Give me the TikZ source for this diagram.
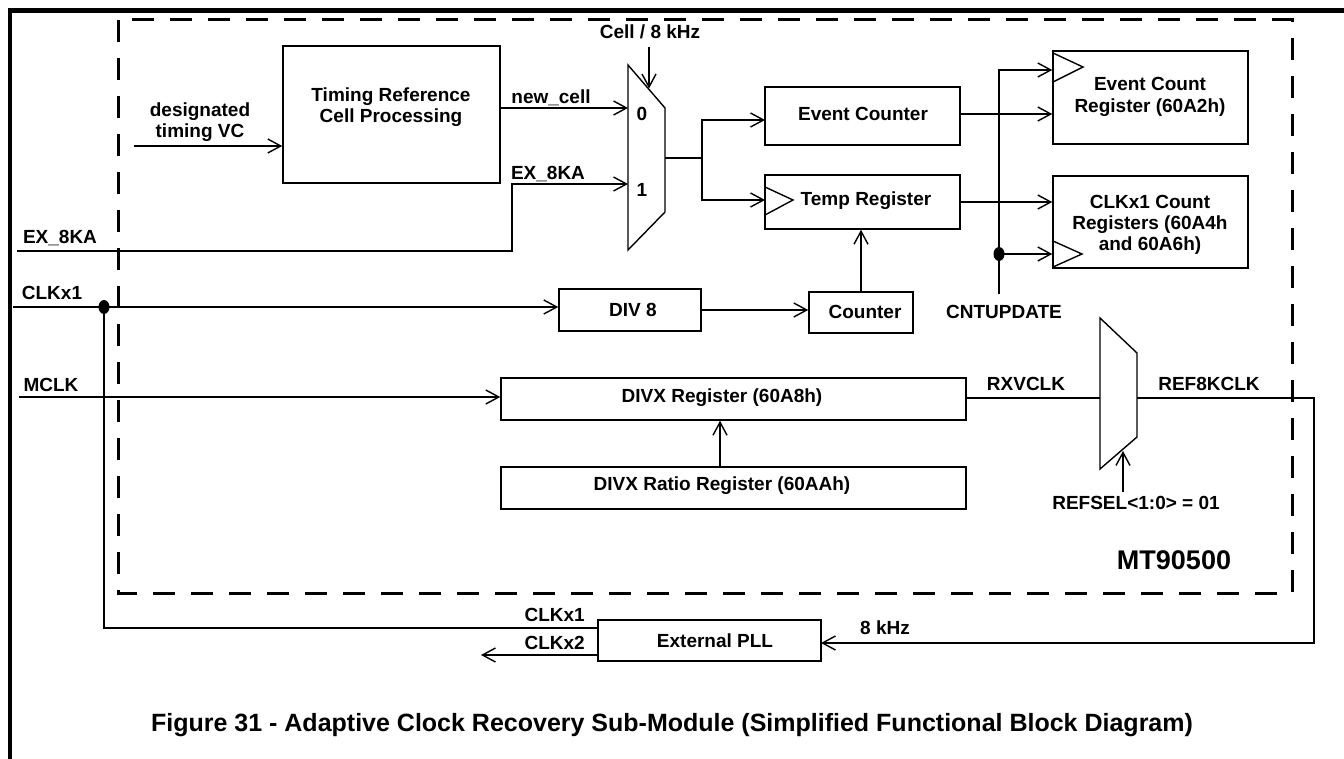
\documentclass[tikz,border=0pt]{standalone}
\usepackage{fontspec}
\setmainfont{Liberation Sans}
\usetikzlibrary{arrows.meta}
\begin{document}
\begin{tikzpicture}[x=1pt,y=-1pt,
  lbl/.style={font=\fontsize{19}{20.5}\selectfont\bfseries, inner sep=0pt, align=center},
  box/.style={draw, line width=1.5pt, inner sep=0pt},
  wire/.style={line width=1.4pt},
  arr/.style={wire, -{Straight Barb[length=13pt,width=14pt,line width=1.4pt]}},
  dot/.style={fill=black}]
\useasboundingbox (0,0) rectangle (1344,759);
% outer frame
\draw[line width=4.5pt, line join=miter] (10,759) -- (10,10.5) -- (1344,10.5);
% dashed chip boundary
\draw[line width=3pt, dash pattern=on 22pt off 16pt] (118,20) -- (118,593) -- (1292,593) -- (1292,20) -- cycle;

% boxes
\node[box, minimum width=217pt, minimum height=137pt] (trc) at (391.5,114.5) {};
\node[box, minimum width=195pt, minimum height=58pt] (evc) at (862.5,116) {};
\node[box, minimum width=195pt, minimum height=54pt] (tmp) at (862.5,202) {};
\node[box, minimum width=195pt, minimum height=93pt] (ecr) at (1150.5,97.5) {};
\node[box, minimum width=195pt, minimum height=92pt] (ccr) at (1150.5,222) {};
\node[box, minimum width=142pt, minimum height=42pt] (div8) at (630,310) {};
\node[box, minimum width=104pt, minimum height=41pt] (cnt) at (861,312.5) {};
\node[box, minimum width=465pt, minimum height=42pt] (divx) at (733.5,399) {};
\node[box, minimum width=465pt, minimum height=42pt] (ratio) at (733.5,488) {};
\node[box, minimum width=223pt, minimum height=41pt] (pll) at (709.5,640.5) {};

% box texts
\node[lbl] (ttrc) at (391,107) {Timing Reference\\Cell Processing};
\node[lbl] (tevc) at (863,114) {Event Counter};
\node[lbl] (ttmp) at (866,201) {Temp Register};
\node[lbl, font=\fontsize{19}{22}\selectfont\bfseries] (tecr) at (1150,97) {Event Count\\Register (60A2h)};
\node[lbl, font=\fontsize{19}{21}\selectfont\bfseries] (tccr) at (1150,225) {CLKx1 Count\\Registers (60A4h\\and 60A6h)};
\node[lbl] (tdiv8) at (633,310) {DIV 8};
\node[lbl] (tcnt) at (865,312) {Counter};
\node[lbl] (tdivx) at (722,398) {DIVX Register (60A8h)};
\node[lbl] (tratio) at (722,486) {DIVX Ratio Register (60AAh)};
\node[lbl] (tpll) at (715,641) {External PLL};

% multiplexers
\coordinate (m1a) at (628,65);
\coordinate (m1b) at (665,108);
\coordinate (m1c) at (665,212);
\coordinate (m1d) at (628,250);
\draw[wire, line join=miter] (m1a) -- (m1b) -- (m1c) -- (m1d) -- cycle;
\coordinate (m2a) at (1100,318);
\coordinate (m2b) at (1137,353);
\coordinate (m2c) at (1137,437);
\coordinate (m2d) at (1100,469);
\draw[wire, line join=miter] (m2a) -- (m2b) -- (m2c) -- (m2d) -- cycle;

% clock triangles
\draw[wire] (765,187) -- (793,200) -- (765,215);
\draw[wire] (1053,53) -- (1083,67) -- (1053,82);
\draw[wire] (1053,241) -- (1082,254) -- (1053,267);

% labels
\node[lbl] (ldvc) at (200,122) {designated\\timing VC};
\node[lbl] (lnew) at (551,98) {new\_cell};
\node[lbl] (lex1) at (548,174) {EX\_8KA};
\node[lbl] (lex2) at (60,238) {EX\_8KA};
\node[lbl] (lcell) at (650,32) {Cell / 8 kHz};
\node[lbl] (l0) at (642,114) {0};
\node[lbl] (l1) at (642,190) {1};
\node[lbl] (lcnu) at (1004,312) {CNTUPDATE};
\node[lbl] (lclk) at (52,293) {CLKx1};
\node[lbl] (lmclk) at (51,385) {MCLK};
\node[lbl] (lrxv) at (1026,384) {RXVCLK};
\node[lbl] (lref) at (1209,384) {REF8KCLK};
\node[lbl] (lsel) at (1136,503) {REFSEL<1:0> = 01};
\node[lbl, font=\fontsize{27}{29}\selectfont\bfseries] (lmt) at (1174,560) {MT90500};
\node[lbl, anchor=east] (lck1) at (585,615) {CLKx1};
\node[lbl, anchor=east] (lck2) at (585,643) {CLKx2};
\node[lbl, anchor=west] (l8k) at (860,628) {8 kHz};
\node[lbl, font=\fontsize{25}{27}\selectfont\bfseries] (title) at (672,725) {Figure 31 - Adaptive Clock Recovery Sub-Module (Simplified Functional Block Diagram)};

% connectors
\coordinate (dvc) at (134,146);
\draw[arr] (dvc) -- (dvc -| trc.west);
\coordinate (m1i0) at (628,108);
\draw[arr] (m1i0 -| trc.east) -- (m1i0);
\coordinate (exin) at (17,251);
\coordinate (exbend) at (512,251);
\coordinate (m1i1) at (628,184);
\draw[arr] (exin) -- (exbend) |- (m1i1);
\coordinate (celltop) at (649,47);
\coordinate (m1sel) at (649,88.5);
\draw[arr] (celltop) -- (m1sel);
\coordinate (m1out) at (665,158);
\coordinate (split) at (702,158);
\coordinate (evcin) at (765,120);
\coordinate (tmpin) at (765,200);
\draw[wire] (m1out) -- (split);
\draw[arr] (split) |- (evcin);
\draw[arr] (split) |- (tmpin);
\draw[arr] (cnt.north) -- (cnt.north |- tmp.south);
\draw[arr] (div8.east) -- (div8.east -| cnt.west);
\coordinate (clkin) at (13,307);
\coordinate (clkdot) at (104,307);
\draw[arr] (clkin) -- (clkin -| div8.west);
\coordinate (mclkin) at (19,397);
\draw[arr] (mclkin) -- (mclkin -| divx.west);
\coordinate (rx) at (720,467);
\draw[arr] (rx) -- (rx |- divx.south);
\coordinate (evcout) at (960,114);
\draw[arr] (evcout) -- (evcout -| ecr.west);
\draw[arr] (tmp.east) -- (tmp.east -| ccr.west);
\coordinate (cnubot) at (999,294);
\coordinate (cnutop) at (999,70);
\coordinate (cdot) at (999,254);
\draw[arr] (cnubot) -- (cnutop) -- (cnutop -| ecr.west);
\draw[arr] (cdot) -- (cdot -| ccr.west);
\coordinate (rxv) at (966,398);
\coordinate (m2in) at (1100,398);
\draw[wire] (rxv) -- (m2in);
\coordinate (m2out) at (1137,398);
\coordinate (rcorner) at (1314,398);
\coordinate (pllin) at (821,643);
\draw[arr] (m2out) -- (rcorner) |- (pllin);
\coordinate (selbot) at (1123,492);
\coordinate (m2sel) at (1123,451);
\draw[arr] (selbot) -- (m2sel);
\coordinate (pllo1) at (598,628);
\draw[wire] (pllo1) -- (pllo1 -| clkdot) -- (clkdot);
\coordinate (pllo2) at (598,655);
\coordinate (ck2end) at (481,655);
\draw[arr] (pllo2) -- (ck2end);

% junction dots
\fill (clkdot) ellipse [x radius=5.5, y radius=7];
\fill (cdot) ellipse [x radius=5.5, y radius=7];
\end{tikzpicture}
\end{document}
